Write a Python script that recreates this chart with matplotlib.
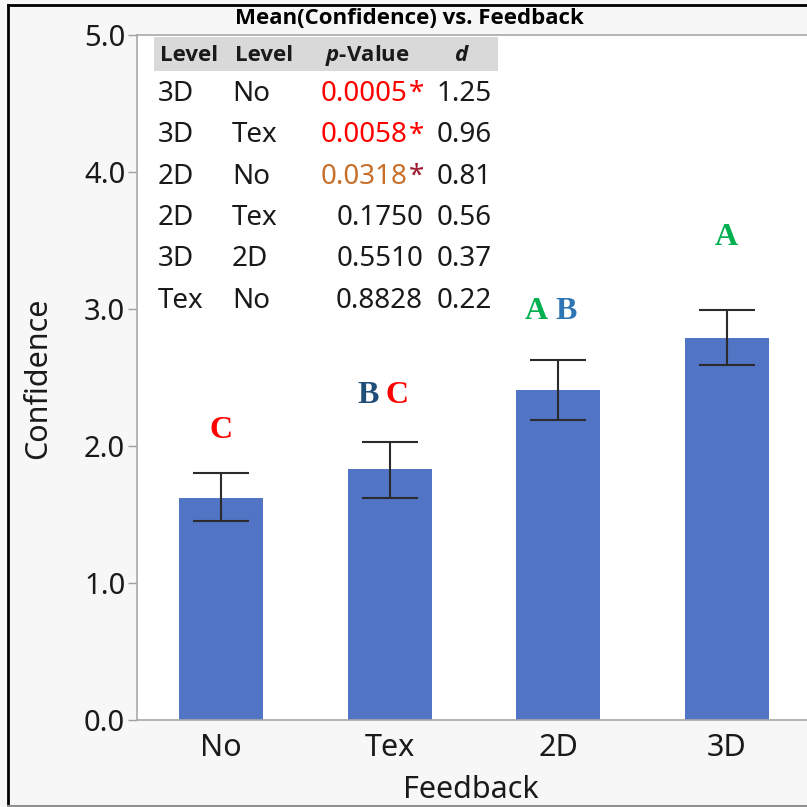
import matplotlib
matplotlib.use("Agg")
import matplotlib.pyplot as plt
from matplotlib.lines import Line2D
from matplotlib.patches import Rectangle

# bar chart data
feedback = ["No", "Tex", "2D", "3D"]
mean_conf = [1.62, 1.83, 2.41, 2.79]
err_low = [1.45, 1.62, 2.19, 2.59]
err_high = [1.80, 2.03, 2.63, 2.99]

# connecting letters report
letters = [["C"], ["B", "C"], ["A", "B"], ["A"]]
letter_colors = [["#FF0000"], ["#1F4E79", "#FF0000"],
                 ["#00B050", "#2E75B6"], ["#00B050"]]
letter_y = [2.11, 2.37, 2.98, 3.52]

# pairwise comparisons table
level_a = ["3D", "3D", "2D", "2D", "3D", "Tex"]
level_b = ["No", "Tex", "No", "Tex", "2D", "No"]
p_values = [0.0005, 0.0058, 0.0318, 0.1750, 0.5510, 0.8828]
cohen_d = [1.25, 0.96, 0.81, 0.56, 0.37, 0.22]

W = H = 807
TXT = "#1a1a1a"
BOLD = ["Open Sans", "DejaVu Sans"]
plt.rcParams["font.family"] = ["Noto Sans", "DejaVu Sans"]
plt.rcParams["mathtext.fontset"] = "custom"
plt.rcParams["mathtext.bfit"] = "Open Sans:italic:bold"


def fx(x):
    return x / W


def fy(y):
    return 1 - y / H


fig = plt.figure(figsize=(W / 100, H / 100), dpi=100, facecolor="#F7F7F7")
ax = fig.add_axes([fx(137), fy(720), (811 - 137) / W, (720 - 35) / H])
ax.set_facecolor("white")

xs = range(len(feedback))
yerr = [[m - lo for m, lo in zip(mean_conf, err_low)],
        [hi - m for m, hi in zip(mean_conf, err_high)]]
ax.bar(xs, mean_conf, width=0.5, color="#5274C4", zorder=2)
ax.errorbar(xs, mean_conf, yerr=yerr, fmt="none", ecolor="#2b2b2b",
            elinewidth=1.5, capsize=20, capthick=1.5, zorder=3)

for i, (labs, cols) in enumerate(zip(letters, letter_colors)):
    n = len(labs)
    for k, (lab, col) in enumerate(zip(labs, cols)):
        off = (k - (n - 1) / 2) * 21 - (5 if n > 1 else 0)
        ax.annotate(lab, (i, letter_y[i]), xytext=(off, 0),
                    textcoords="offset points", ha="center", va="center",
                    fontsize=23, fontweight="bold", color=col,
                    family="Liberation Serif", zorder=4)

ax.set_xlim(-0.5, 3.5)
ax.set_ylim(0, 5)
ax.set_yticks([0, 1, 2, 3, 4, 5])
ax.set_yticklabels([f"{v:.1f}" for v in range(6)])
ax.set_xticks(list(xs))
ax.set_xticklabels(feedback)
ax.tick_params(axis="y", length=6.5, width=1, color="#A0A0A0", pad=2,
               labelsize=21, labelcolor=TXT)
ax.tick_params(axis="x", length=0, pad=9, labelsize=22, labelcolor=TXT)
for side in ["left", "top", "bottom"]:
    ax.spines[side].set_color("#A8A8A8")
    ax.spines[side].set_linewidth(1.2)
ax.spines["right"].set_visible(False)

fig.text(fx(38), fy(378), "Confidence", rotation=90, ha="center",
         va="center", fontsize=22, color=TXT)
fig.text(fx(471), fy(790), "Feedback", ha="center", va="center",
         fontsize=22, color=TXT)
fig.text(fx(409), fy(18), "Mean(Confidence) vs. Feedback", ha="center",
         va="center", fontsize=16, fontweight="bold", family=BOLD,
         color="black")

# table
fig.add_artist(Rectangle((fx(154), fy(71)), (498 - 154) / W, (71 - 37) / H,
                         transform=fig.transFigure, facecolor="#D9D9D9",
                         edgecolor="none", zorder=5))
hb = fy(61)
hkw = dict(fontsize=16, fontweight="bold", family=BOLD, color=TXT, zorder=6)
fig.text(fx(160), hb, "Level", ha="left", va="baseline", **hkw)
fig.text(fx(235), hb, "Level", ha="left", va="baseline", **hkw)
fig.text(fx(410), hb, r"$\mathbfit{p}$-Value", ha="right", va="baseline",
         **hkw)
fig.text(fx(462), hb, r"$\mathbfit{d}$", ha="center", va="baseline", **hkw)

bkw = dict(fontsize=20, va="baseline", zorder=6)
for r in range(len(level_a)):
    yb = fy(101 + r * 41.3)
    p = p_values[r]
    fig.text(fx(158), yb, level_a[r], ha="left", color=TXT, **bkw)
    fig.text(fx(232), yb, level_b[r], ha="left", color=TXT, **bkw)
    if p < 0.05:
        col = "#FF0000" if p < 0.01 else "#C8702A"
        star = "#FF0000" if p < 0.01 else "#9E1A2E"
        fig.text(fx(407), yb, f"{p:.4f}", ha="right", color=col, **bkw)
        fig.text(fx(424), yb, "*", ha="right", color=star, **bkw)
    else:
        fig.text(fx(423), yb, f"{p:.4f}", ha="right", color=TXT, **bkw)
    fig.text(fx(437), yb, f"{cohen_d[r]:.2f}", ha="left", color=TXT, **bkw)

# outer frame of the screenshot
fig.add_artist(Line2D([fx(8), 1], [fy(5), fy(5)], color="black", lw=2,
                      transform=fig.transFigure))
fig.add_artist(Line2D([fx(8), fx(8)], [fy(5), fy(806)], color="black", lw=2,
                      transform=fig.transFigure))
fig.add_artist(Line2D([fx(8), 1], [fy(806), fy(806)], color="#909090", lw=1.5,
                      transform=fig.transFigure))

fig.savefig("out.png", dpi=100, facecolor=fig.get_facecolor())
